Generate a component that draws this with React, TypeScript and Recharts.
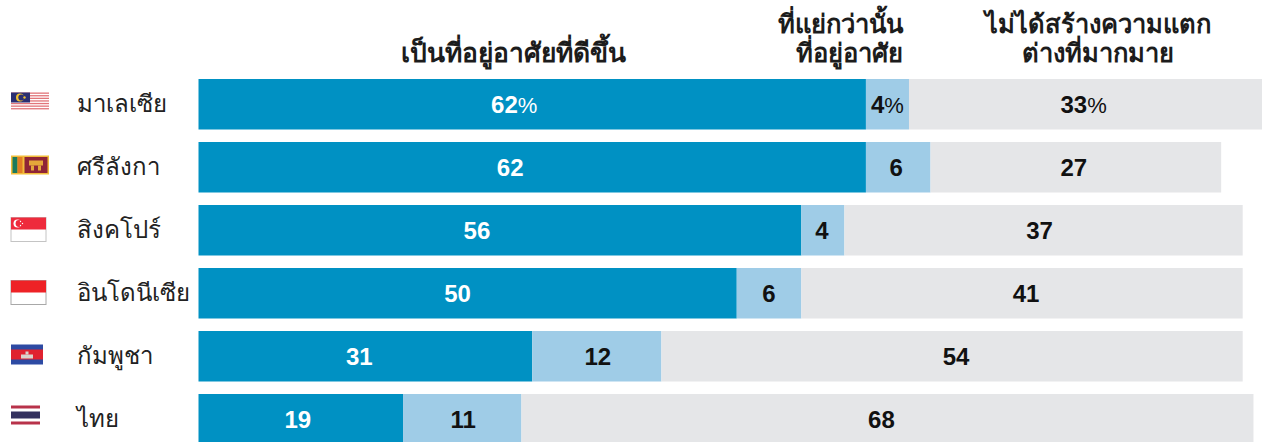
import React from "react";
import { BarChart, Bar, XAxis, YAxis, LabelList } from "recharts";

const countries = ["มาเลเซีย", "ศรีลังกา", "สิงคโปร์", "อินโดนีเซีย", "กัมพูชา", "ไทย"];
const better = [62, 62, 56, 50, 31, 19];
const worse = [4, 6, 4, 6, 12, 11];
const noDiff = [33, 27, 37, 41, 54, 68];

// Small hand nudges of the value labels, as in the source graphic
const nudgeBetter = [-18, -22, -23, -10, -6, -3];
const nudgeWorse = [0, -2, -1, 0, 1, 1];
const nudgeNoDiff = [-3, -2, -4, 4, 4, -6];

const data = countries.map((c, i) => ({
  country: c,
  better: better[i],
  worse: worse[i],
  noDiff: noDiff[i],
}));

const FONT = "'Liberation Sans', Arial, sans-serif";
const THAI = "'Noto Sans', 'Liberation Sans', sans-serif";

function Flag({ name, cy }: { name: string; cy: number }) {
  const x = 11;
  if (name === "มาเลเซีย") {
    const y = cy - 12;
    const stripes = [0, 1, 2, 3, 4, 5, 6];
    return (
      <g>
        <rect x={x} y={y} width={38} height={18} fill="#fff" />
        {stripes.map((s) => (
          <rect key={s} x={x} y={y + s * 2.6} width={38} height={1.3} fill="#e2757a" />
        ))}
        <rect x={x} y={y} width={19} height={10} fill="#2a2f72" />
        <circle cx={x + 9} cy={y + 5} r={4} fill="#f2c230" />
        <circle cx={x + 10.4} cy={y + 5} r={3.1} fill="#2a2f72" />
        <circle cx={x + 13.5} cy={y + 5} r={1.2} fill="#f2c230" />
      </g>
    );
  }
  if (name === "ศรีลังกา") {
    const y = cy - 12;
    return (
      <g>
        <rect x={x} y={y} width={38} height={19} fill="#f2bd3a" />
        <rect x={x + 1.5} y={y + 1.5} width={5} height={16} fill="#1c7a5c" />
        <rect x={x + 6.5} y={y + 1.5} width={5} height={16} fill="#e27d25" />
        <rect x={x + 13.5} y={y + 1.5} width={23} height={16} fill="#8f2436" />
        <rect x={x + 18} y={y + 5} width={14} height={5} fill="#e5a63a" />
        <rect x={x + 20} y={y + 10} width={3} height={5} fill="#e5a63a" />
        <rect x={x + 27} y={y + 10} width={3} height={5} fill="#e5a63a" />
      </g>
    );
  }
  if (name === "สิงคโปร์") {
    const y = cy - 13;
    return (
      <g>
        <rect x={x} y={y} width={35} height={24} fill="#fff" stroke="#c4c4c4" />
        <rect x={x} y={y} width={35} height={12} fill="#ee2b3c" />
        <circle cx={x + 6.5} cy={y + 6} r={4} fill="#fff" />
        <circle cx={x + 8} cy={y + 6} r={3.4} fill="#ee2b3c" />
        <circle cx={x + 9.5} cy={y + 4} r={0.7} fill="#fff" />
        <circle cx={x + 11.5} cy={y + 6} r={0.7} fill="#fff" />
        <circle cx={x + 9.5} cy={y + 8} r={0.7} fill="#fff" />
      </g>
    );
  }
  if (name === "อินโดนีเซีย") {
    const y = cy - 13;
    return (
      <g>
        <rect x={x} y={y} width={35} height={24} fill="#fff" stroke="#a8a8a8" />
        <rect x={x} y={y} width={35} height={12} fill="#ee2226" />
      </g>
    );
  }
  if (name === "กัมพูชา") {
    const y = cy - 12;
    return (
      <g>
        <rect x={x} y={y} width={32} height={20} fill="#2d4aa3" />
        <rect x={x} y={y + 5} width={32} height={10} fill="#e0222f" />
        <rect x={x + 10} y={y + 10} width={12} height={4} fill="#d9d4cc" />
        <rect x={x + 14.5} y={y + 7} width={3} height={3} fill="#d9d4cc" />
      </g>
    );
  }
  const y = cy - 14;
  return (
    <g>
      <rect x={x} y={y} width={29} height={19} fill="#fff" />
      <rect x={x} y={y} width={29} height={3} fill="#b8324a" />
      <rect x={x} y={y + 6} width={29} height={7} fill="#33315f" />
      <rect x={x} y={y + 16} width={29} height={3} fill="#b8324a" />
    </g>
  );
}

function CountryTick(props: any) {
  const { y, payload } = props;
  return (
    <g>
      <Flag name={payload.value} cy={y} />
      <text x={77} y={y} dy={7} fontFamily={THAI} fontSize={24} fill="#222">
        {payload.value}
      </text>
    </g>
  );
}

function makeLabel(color: string, nudges: number[]) {
  return function ValueLabel(props: any) {
    const { x, y, width, height, value, index } = props;
    return (
      <text
        x={x + width / 2 + nudges[index]}
        y={y + height / 2 + 9}
        textAnchor="middle"
        fontFamily={FONT}
        fontSize={24}
        fontWeight={700}
        fill={color}
      >
        {value}
        {index === 0 ? <tspan fontWeight={400} fontSize={22}>%</tspan> : null}
      </text>
    );
  };
}

const header = {
  fontFamily: THAI,
  fontWeight: 700,
  fill: "#1c1c1c",
};

export default function App() {
  return (
    <div
      style={{ position: "absolute", left: 0, top: 0, width: 1262, height: 442, overflow: "hidden", background: "#fff" }}
    >
      <BarChart
        width={1275}
        height={451}
        data={data}
        layout="vertical"
        barSize={50.5}
        margin={{ top: 73, right: 0, bottom: 0, left: 0 }}
      >
        <XAxis type="number" domain={[0, 100]} hide />
        <YAxis
          type="category"
          dataKey="country"
          width={198.5}
          axisLine={false}
          tickLine={false}
          tick={<CountryTick />}
          interval={0}
        />
        <Bar dataKey="better" stackId="a" fill="#0091c3" isAnimationActive={false}>
          <LabelList dataKey="better" content={makeLabel("#ffffff", nudgeBetter)} />
        </Bar>
        <Bar dataKey="worse" stackId="a" fill="#9fcce7" isAnimationActive={false}>
          <LabelList dataKey="worse" content={makeLabel("#111111", nudgeWorse)} />
        </Bar>
        <Bar dataKey="noDiff" stackId="a" fill="#e5e6e8" isAnimationActive={false}>
          <LabelList dataKey="noDiff" content={makeLabel("#111111", nudgeNoDiff)} />
        </Bar>
        <text x={513.5} y={62} textAnchor="middle" fontSize={26.4} {...header}>เป็นที่อยู่อาศัยที่ดีขึ้น</text>
        <text textAnchor="end" fontSize={25.6} {...header}>
          <tspan x={903} y={33}>ที่แย่กว่านั้น</tspan>
          <tspan x={903} y={62}>ที่อยู่อาศัย</tspan>
        </text>
        <text textAnchor="middle" fontSize={25.5} {...header}>
          <tspan x={1097.5} y={33}>ไม่ได้สร้างความแตก</tspan>
          <tspan x={1097.5} y={62}>ต่างที่มากมาย</tspan>
        </text>
      </BarChart>
    </div>
  );
}
